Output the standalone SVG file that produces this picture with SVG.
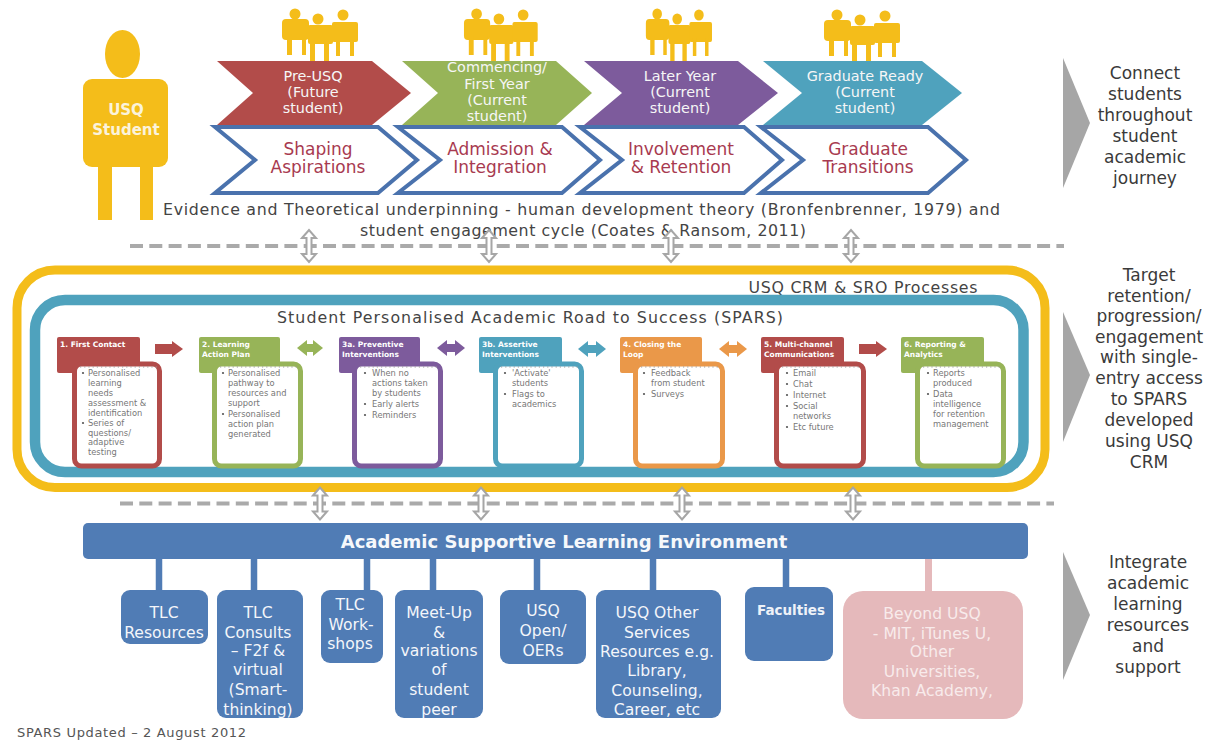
<svg xmlns="http://www.w3.org/2000/svg" xmlns:xlink="http://www.w3.org/1999/xlink" width="1211" height="742" viewBox="0 0 1211 742">
<style>
text{font-family:"DejaVu Sans","Liberation Sans",sans-serif;text-anchor:middle}
.y{fill:#f4bd1a}
.s{font-size:14.4px;fill:#f6f6f6}
.p{font-size:17px;fill:#a83a50}
.e{font-size:15.8px;fill:#444}
.r{font-size:17px;fill:#3a3a3a}
.b{fill:#507cb5}
.n{font-size:15.6px;fill:#f4f6fa}
.pk{font-size:15.6px;fill:#f8ebeb}
.ch{fill:#fff;stroke:#4a72ad;stroke-width:4}
.h{font-size:7.5px;fill:#fff;font-weight:bold;text-anchor:start}
.t{font-size:8.3px;fill:#777;text-anchor:start}
.box{fill:#fff;stroke-width:5}
.dots{stroke:#999;stroke-width:1.2;stroke-dasharray:1.2 3;fill:none}
.bl{fill:#555}
.dash{stroke:#aaa;stroke-width:4;stroke-dasharray:13 6.3;fill:none}
.gv{stroke:#a6a6a6;stroke-width:2;fill:#fff}
.link{stroke:#507cb5;stroke-width:6.5;fill:none}
.tri{fill:#a6a6a6}
</style>
<defs>
<g id="people" class="y">
<circle cx="14" cy="14" r="5.5"/><circle cx="37" cy="19" r="5.5"/><circle cx="62" cy="15" r="5.5"/>
<rect x="1" y="19" width="27" height="21" rx="4"/><rect x="27" y="25" width="25" height="19" rx="2"/><rect x="51" y="22" width="26" height="20" rx="2"/>
<rect x="6" y="36" width="5" height="19"/><rect x="21" y="36" width="4" height="19"/><rect x="29" y="40" width="5" height="21"/><rect x="43" y="40" width="5" height="21"/><rect x="55" y="38" width="4" height="18"/><rect x="69" y="38" width="4" height="18"/>
</g>
<path id="updown" class="gv" d="M-7 -8 0 -16 7 -8H2.500V8H7L0 16-7 8H-2.500V-8Z"/>
</defs>

<g id="student">
<ellipse class="y" cx="122.500" cy="54" rx="17.500" ry="24"/>
<rect class="y" x="83" y="79" width="85" height="88" rx="9"/>
<rect class="y" x="98" y="160" width="14" height="60"/><rect class="y" x="140" y="160" width="13" height="60"/>
<text x="126" y="115" font-size="15" font-weight="bold" fill="#fbf3dc">USQ</text>
<text x="126" y="135" font-size="15" font-weight="bold" fill="#fbf3dc">Student</text>
</g>

<g id="people-1"><use xlink:href="#people" href="#people" x="281" y="0"/></g>
<g id="people-2"><use xlink:href="#people" href="#people" transform="translate(463,0) scale(.97,1)"/></g>
<g id="people-3"><use xlink:href="#people" href="#people" transform="translate(645,0) scale(.87,1)"/></g>
<g id="people-4"><use xlink:href="#people" href="#people" x="823" y="1"/></g>

<g id="stage-1">
<path d="M217 61H372L411 93 372 125H217L253 93Z" fill="#b24c4a"/>
<text class="s" x="313" y="81">Pre-USQ</text><text class="s" x="313" y="97">(Future</text><text class="s" x="313" y="113">student)</text>
</g>
<g id="stage-2">
<path d="M402 61H556L592 93 556 125H402L438 93Z" fill="#97b458"/>
<text class="s" x="497" y="72">Commencing/</text><text class="s" x="497" y="89">First Year</text><text class="s" x="497" y="105">(Current</text><text class="s" x="497" y="121">student)</text>
</g>
<g id="stage-3">
<path d="M584 61H738L778 93 738 125H584L622 93Z" fill="#7d5b9c"/>
<text class="s" x="680" y="81">Later Year</text><text class="s" x="680" y="97">(Current</text><text class="s" x="680" y="113">student)</text>
</g>
<g id="stage-4">
<path d="M763 61H922L962 93 922 125H763L802 93Z" fill="#4fa2bd"/>
<text class="s" x="865" y="81">Graduate Ready</text><text class="s" x="865" y="97">(Current</text><text class="s" x="865" y="113">student)</text>
</g>

<g id="phase-1">
<path class="ch" d="M215 127H378L417 160 378 193H215L255 160Z"/>
<text class="p" x="318" y="155">Shaping</text><text class="p" x="318" y="173">Aspirations</text>
</g>
<g id="phase-2">
<path class="ch" d="M398 127H562L600 160 562 193H398L440 160Z"/>
<text class="p" x="500" y="155">Admission &amp;</text><text class="p" x="500" y="173">Integration</text>
</g>
<g id="phase-3">
<path class="ch" d="M580 127H744L782 160 744 193H580L622 160Z"/>
<text class="p" x="681" y="155">Involvement</text><text class="p" x="681" y="173">&amp; Retention</text>
</g>
<g id="phase-4">
<path class="ch" d="M761 127H928L966 160 928 193H761L803 160Z"/>
<text class="p" x="868" y="155">Graduate</text><text class="p" x="868" y="173">Transitions</text>
</g>

<g id="evidence">
<text class="e" x="581.500" y="215" textLength="837">Evidence and Theoretical underpinning - human development theory (Bronfenbrenner, 1979)  and</text>
<text class="e" x="583" y="236" textLength="446">student engagement cycle (Coates &amp; Ransom, 2011)</text>
</g>

<g id="crm">
<rect x="17" y="270" width="1028" height="217.500" rx="38" fill="#fff" stroke="#f4bd1a" stroke-width="9"/>
<text class="e" x="863" y="293" textLength="229">USQ CRM &amp; SRO Processes</text>
</g>
<g id="spars">
<rect x="35" y="300" width="988.500" height="172" rx="30" fill="#fff" stroke="#4fa2bd" stroke-width="10.500"/>
<text class="e" x="530" y="323" textLength="506">Student Personalised Academic Road to Success (SPARS)</text>
</g>

<g id="connectors">
<path class="dash" d="M130 246H1064"/>
<path class="dash" d="M120 503.500H1054"/>
<use xlink:href="#updown" href="#updown" x="309" y="246"/>
<use xlink:href="#updown" href="#updown" x="489" y="246"/>
<use xlink:href="#updown" href="#updown" x="671" y="246"/>
<use xlink:href="#updown" href="#updown" x="851" y="246"/>
<use xlink:href="#updown" href="#updown" x="320" y="503.500"/>
<use xlink:href="#updown" href="#updown" x="481" y="503.500"/>
<use xlink:href="#updown" href="#updown" x="682" y="503.500"/>
<use xlink:href="#updown" href="#updown" x="853" y="503.500"/>
<path class="link" d="M159 555V592M254 555V592M367 555V592M433 555V592M537 555V592M653 555V592M786 555V590"/>
<path d="M928.500 555V593" stroke="#e5b9bb" stroke-width="7" fill="none"/>
<path d="M155 344H172V341L183 349 172 357V354H155Z" fill="#b24c4a"/>
<path d="M297 348 307 340V344H313V340L323 348 313 356V352H307V356Z" fill="#97b458"/>
<path d="M437 348 447 340V344H455V340L465 348 455 356V352H447V356Z" fill="#7d5b9c"/>
<path d="M578 349 588 341V345H596V341L606 349 596 357V353H588V357Z" fill="#4fa2bd"/>
<path d="M719 349 729 341V345H737V341L747 349 737 357V353H729V357Z" fill="#ea9849"/>
<path d="M859 344H876V341L887 349 876 357V354H859Z" fill="#b24c4a"/>
</g>

<g id="step-1">
<rect x="57" y="337" width="83" height="36" rx="2" fill="#b24c4a"/>
<rect x="74.500" y="364" width="85" height="102" rx="7" class="box" stroke="#b24c4a"/>
<path class="dots" d="M80 367H157"/>
<circle class="bl" cx="83" cy="373" r="1.100"/><circle class="bl" cx="83" cy="423" r="1.100"/>
<text class="h" x="60" y="347">1. First Contact</text>
<text class="t" x="88" y="376">Personalised</text><text class="t" x="88" y="386">learning</text><text class="t" x="88" y="396">needs</text><text class="t" x="88" y="406">assessment &amp;</text><text class="t" x="88" y="416">identification</text><text class="t" x="88" y="426">Series of</text><text class="t" x="88" y="436">questions/</text><text class="t" x="88" y="445">adaptive</text><text class="t" x="88" y="455">testing</text>
</g>
<g id="step-2">
<rect x="199" y="337" width="81" height="36" rx="2" fill="#97b458"/>
<rect x="214.500" y="364" width="86" height="102" rx="7" class="box" stroke="#97b458"/>
<path class="dots" d="M220 367H297"/>
<circle class="bl" cx="223" cy="373" r="1.100"/><circle class="bl" cx="223" cy="414" r="1.100"/>
<text class="h" x="202" y="347">2. Learning</text><text class="h" x="202" y="357">Action Plan</text>
<text class="t" x="228" y="376">Personalised</text><text class="t" x="228" y="386">pathway to</text><text class="t" x="228" y="396">resources and</text><text class="t" x="228" y="406">support</text><text class="t" x="228" y="417">Personalised</text><text class="t" x="228" y="427">action plan</text><text class="t" x="228" y="437">generated</text>
</g>
<g id="step-3a">
<rect x="339" y="337" width="81" height="36" rx="2" fill="#7d5b9c"/>
<rect x="354.500" y="364" width="86" height="102" rx="7" class="box" stroke="#7d5b9c"/>
<path class="dots" d="M360 367H437"/>
<circle class="bl" cx="365" cy="373" r="1.100"/><circle class="bl" cx="365" cy="404" r="1.100"/><circle class="bl" cx="365" cy="415" r="1.100"/>
<text class="h" x="342" y="347">3a. Preventive</text><text class="h" x="342" y="357">Interventions</text>
<text class="t" x="372" y="376">When no</text><text class="t" x="372" y="386">actions taken</text><text class="t" x="372" y="396">by students</text><text class="t" x="372" y="407">Early alerts</text><text class="t" x="372" y="418">Reminders</text>
</g>
<g id="step-3b">
<rect x="479" y="337" width="83" height="36" rx="2" fill="#4fa2bd"/>
<rect x="495.500" y="364" width="86" height="102" rx="7" class="box" stroke="#4fa2bd"/>
<path class="dots" d="M501 367H578"/>
<circle class="bl" cx="505" cy="373" r="1.100"/><circle class="bl" cx="505" cy="394" r="1.100"/>
<text class="h" x="482" y="347">3b. Assertive</text><text class="h" x="482" y="357">Interventions</text>
<text class="t" x="512" y="376">'Activate'</text><text class="t" x="512" y="386">students</text><text class="t" x="512" y="397">Flags to</text><text class="t" x="512" y="407">academics</text>
</g>
<g id="step-4">
<rect x="620" y="337" width="82" height="36" rx="2" fill="#ea9849"/>
<rect x="635.500" y="364" width="87" height="102" rx="7" class="box" stroke="#ea9849"/>
<path class="dots" d="M641 367H718"/>
<circle class="bl" cx="644" cy="373" r="1.100"/><circle class="bl" cx="644" cy="394" r="1.100"/>
<text class="h" x="623" y="347">4. Closing the</text><text class="h" x="623" y="357">Loop</text>
<text class="t" x="651" y="376">Feedback</text><text class="t" x="651" y="386">from student</text><text class="t" x="651" y="397">Surveys</text>
</g>
<g id="step-5">
<rect x="761" y="337" width="83" height="36" rx="2" fill="#b24c4a"/>
<rect x="776.500" y="364" width="87" height="102" rx="7" class="box" stroke="#b24c4a"/>
<path class="dots" d="M782 367H859"/>
<circle class="bl" cx="787" cy="373" r="1.100"/><circle class="bl" cx="787" cy="384" r="1.100"/><circle class="bl" cx="787" cy="395" r="1.100"/><circle class="bl" cx="787" cy="406" r="1.100"/><circle class="bl" cx="787" cy="427" r="1.100"/>
<text class="h" x="764" y="347">5. Multi-channel</text><text class="h" x="764" y="357">Communications</text>
<text class="t" x="793" y="376">Email</text><text class="t" x="793" y="387">Chat</text><text class="t" x="793" y="398">Internet</text><text class="t" x="793" y="409">Social</text><text class="t" x="793" y="419">networks</text><text class="t" x="793" y="430">Etc future</text>
</g>
<g id="step-6">
<rect x="901" y="337" width="83" height="36" rx="2" fill="#97b458"/>
<rect x="917.500" y="364" width="86" height="102" rx="7" class="box" stroke="#97b458"/>
<path class="dots" d="M923 367H1000"/>
<circle class="bl" cx="928" cy="373" r="1.100"/><circle class="bl" cx="928" cy="394" r="1.100"/>
<text class="h" x="904" y="347">6. Reporting &amp;</text><text class="h" x="904" y="357">Analytics</text>
<text class="t" x="933" y="376">Reports</text><text class="t" x="933" y="386">produced</text><text class="t" x="933" y="397">Data</text><text class="t" x="933" y="407">intelligence</text><text class="t" x="933" y="417">for retention</text><text class="t" x="933" y="427">management</text>
</g>

<g id="environment">
<rect x="83" y="523" width="945" height="36" rx="5" class="b"/>
<text x="564" y="548" font-size="18" font-weight="bold" fill="#f6f8fb">Academic Supportive Learning Environment</text>
</g>
<g id="res-1"><rect x="121" y="590" width="87" height="54" rx="9" class="b"/><text class="n" x="164" y="618">TLC</text><text class="n" x="164" y="638">Resources</text></g>
<g id="res-2"><rect x="217" y="590" width="86" height="128" rx="9" class="b"/><text class="n" x="258" y="618">TLC</text><text class="n" x="258" y="638">Consults</text><text class="n" x="258" y="656">– F2f &amp;</text><text class="n" x="258" y="675">virtual</text><text class="n" x="258" y="695">(Smart-</text><text class="n" x="258" y="715">thinking)</text></g>
<g id="res-3"><rect x="321" y="590" width="62" height="73" rx="9" class="b"/><text class="n" x="350" y="610">TLC</text><text class="n" x="351" y="630">Work-</text><text class="n" x="350" y="649">shops</text></g>
<g id="res-4"><rect x="395" y="590" width="88" height="128" rx="9" class="b"/><text class="n" x="439" y="618">Meet-Up</text><text class="n" x="439" y="638">&amp;</text><text class="n" x="439" y="656">variations</text><text class="n" x="439" y="675">of</text><text class="n" x="439" y="695">student</text><text class="n" x="439" y="715">peer</text></g>
<g id="res-5"><rect x="500" y="590" width="86" height="74" rx="9" class="b"/><text class="n" x="543" y="616">USQ</text><text class="n" x="543" y="636">Open/</text><text class="n" x="543" y="656">OERs</text></g>
<g id="res-6"><rect x="596" y="590" width="125" height="128" rx="9" class="b"/><text class="n" x="657" y="618">USQ  Other</text><text class="n" x="657" y="638">Services</text><text class="n" x="657" y="657">Resources e.g.</text><text class="n" x="657" y="676">Library,</text><text class="n" x="657" y="696">Counseling,</text><text class="n" x="657" y="715">Career, etc</text></g>
<g id="res-7"><rect x="745" y="587" width="88" height="74" rx="9" class="b"/><text x="791" y="615" font-size="13.500" font-weight="bold" fill="#eef2f8">Faculties</text></g>
<g id="res-8"><rect x="843" y="591" width="180" height="128" rx="20" fill="#e5b9bb"/><text class="pk" x="932" y="619">Beyond USQ</text><text class="pk" x="932" y="639">- MIT, iTunes U,</text><text class="pk" x="932" y="657">Other</text><text class="pk" x="932" y="677">Universities,</text><text class="pk" x="932" y="696">Khan Academy,</text></g>

<g id="note-1">
<path class="tri" d="M1063 58 1090 123 1063 188Z"/>
<text class="r" x="1145" y="79">Connect</text><text class="r" x="1145" y="100">students</text><text class="r" x="1145" y="121">throughout</text><text class="r" x="1145" y="142">student</text><text class="r" x="1145" y="163">academic</text><text class="r" x="1145" y="184">journey</text>
</g>
<g id="note-2">
<path class="tri" d="M1063 312 1090 375 1063 442Z"/>
<text class="r" x="1149" y="281">Target</text><text class="r" x="1149" y="302">retention/</text><text class="r" x="1149" y="322">progression/</text><text class="r" x="1149" y="343">engagement</text><text class="r" x="1149" y="363">with single-</text><text class="r" x="1149" y="384">entry access</text><text class="r" x="1149" y="405">to SPARS</text><text class="r" x="1149" y="426">developed</text><text class="r" x="1149" y="447">using  USQ</text><text class="r" x="1149" y="468">CRM</text>
</g>
<g id="note-3">
<path class="tri" d="M1063 552 1090 615 1063 680Z"/>
<text class="r" x="1148" y="568">Integrate</text><text class="r" x="1148" y="589">academic</text><text class="r" x="1148" y="610">learning</text><text class="r" x="1148" y="631">resources</text><text class="r" x="1148" y="652">and</text><text class="r" x="1148" y="673">support</text>
</g>
<text id="footer" x="131.500" y="737" font-size="13" fill="#555" textLength="229">SPARS Updated – 2 August 2012</text>
</svg>
